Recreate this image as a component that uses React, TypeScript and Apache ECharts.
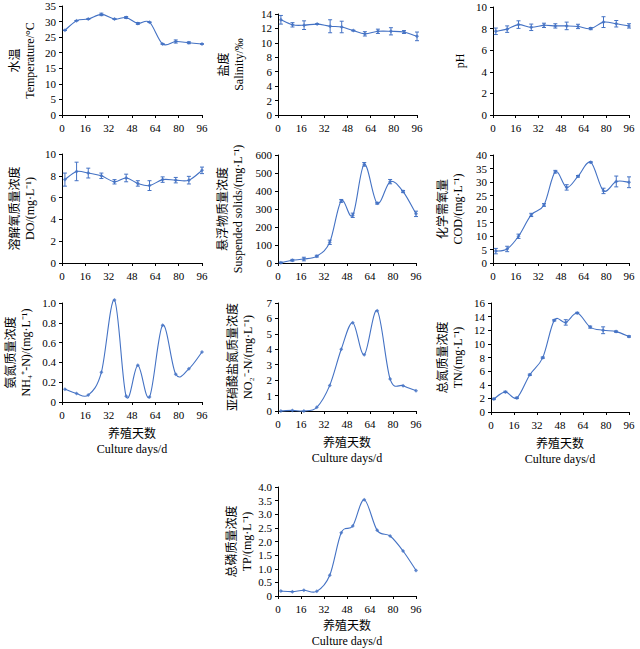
import React, { useEffect, useRef } from "react";
import * as echarts from "echarts";

const days = [2, 10, 18, 27, 36, 44, 52, 60, 69, 78, 87, 96];
const xTicks = [0, 16, 32, 48, 64, 80, 96];

const temperature = [27.2, 30.3, 30.8, 32.3, 30.8, 31.3, 29.4, 29.8, 22.8, 23.6, 23.2, 22.8];
const temperatureErr = [0, 0, 0, 0.4, 0, 0.3, 0.3, 0, 0, 0.5, 0.3, 0];
const salinity = [13.2, 12.5, 12.45, 12.6, 12.3, 12.2, 11.7, 11.25, 11.6, 11.6, 11.5, 10.9];
const salinityErr = [0.6, 0.3, 0.6, 0.05, 0.9, 0.8, 0.05, 0.3, 0.3, 0.5, 0.2, 0.6];
const pH = [7.75, 7.95, 8.37, 8.12, 8.3, 8.25, 8.25, 8.2, 8.0, 8.6, 8.45, 8.25];
const pHErr = [0.3, 0.3, 0.35, 0.3, 0.2, 0.2, 0.35, 0.2, 0.1, 0.5, 0.3, 0.2];
const dissolvedO2 = [7.65, 8.4, 8.25, 8.0, 7.45, 7.8, 7.3, 7.1, 7.65, 7.6, 7.6, 8.5];
const dissolvedO2Err = [0.6, 0.85, 0.45, 0.25, 0.2, 0.35, 0.25, 0.45, 0.25, 0.25, 0.35, 0.3];
const suspended = [2, 15, 22, 38, 115, 345, 265, 548, 332, 452, 397, 273];
const suspendedErr = [3, 5, 10, 5, 12, 8, 12, 10, 5, 12, 6, 15];
const cod = [4.4, 5.2, 9.9, 17.8, 21.5, 33.8, 28, 32.1, 37.3, 26.7, 30.2, 29.9];
const codErr = [1, 1, 0.8, 0.6, 0.5, 0.5, 1, 0.3, 0.2, 1, 2, 2];
const nh4 = [0.13, 0.085, 0.07, 0.3, 1.03, 0.057, 0.37, 0.05, 0.775, 0.28, 0.335, 0.505];
const no2 = [0, 0.04, 0, 0.24, 1.66, 4.0, 5.72, 3.65, 6.5, 2.07, 1.64, 1.32];
const tn = [1.92, 2.95, 2.07, 5.47, 7.98, 13.45, 13.15, 14.53, 12.46, 12.0, 11.8, 11.08];
const tnErr = [0.1, 0.1, 0.1, 0.1, 0.1, 0.1, 0.4, 0.1, 0.15, 0.5, 0.1, 0.1];
const tp = [0.18, 0.16, 0.21, 0.17, 0.76, 2.32, 2.57, 3.53, 2.41, 2.2, 1.65, 0.94];

const FONT = '"Liberation Serif", "Times New Roman", "Noto Sans CJK SC", serif';
const BLUE = "#4472c4";

type Panel = {
  values: number[];
  errs?: number[];
  yName: string;
  yMax: number;
  yInterval: number;
  yFmt?: (v: number) => string;
  nameGap: number;
  box: [number, number, number, number];
  xName?: boolean;
  xNameGap?: number;
};

const panels: Panel[] = [
  { values: temperature, errs: temperatureErr, yName: "水温\nTemperature/°C", yMax: 35, yInterval: 5, nameGap: 25, box: [62, 6, 140, 109] },
  { values: salinity, errs: salinityErr, yName: "盐度\nSalinity/‰", yMax: 14, yInterval: 2, nameGap: 32, box: [278, 14, 139, 101] },
  { values: pH, errs: pHErr, yName: "pH", yMax: 10, yInterval: 2, nameGap: 26, box: [493, 7, 136, 108] },
  { values: dissolvedO2, errs: dissolvedO2Err, yName: "溶解氧质量浓度\nDO/(mg·L⁻¹)", yMax: 10, yInterval: 2, nameGap: 25, box: [62, 154, 140, 109] },
  { values: suspended, errs: suspendedErr, yName: "悬浮物质量浓度\nSuspended solids/(mg·L⁻¹)", yMax: 600, yInterval: 100, nameGap: 33, box: [278, 155, 138, 108] },
  { values: cod, errs: codErr, yName: "化学需氧量\nCOD/(mg·L⁻¹)", yMax: 40, yInterval: 5, nameGap: 28, box: [493, 155, 136, 108] },
  { values: nh4, yName: "氨氮质量浓度\nNH₄⁺-N)/(mg·L⁻¹)", yMax: 1.0, yInterval: 0.2, yFmt: (v) => (v === 0 ? "0" : v.toFixed(1)), nameGap: 29, box: [62, 303, 140, 99], xName: true, xNameGap: 24 },
  { values: no2, yName: "亚硝酸盐氮质量浓度\nNO₂⁻-N/(mg·L⁻¹)", yMax: 7, yInterval: 1, nameGap: 23, box: [278, 303, 138, 108], xName: true, xNameGap: 24 },
  { values: tn, errs: tnErr, yName: "总氮质量浓度\nTN/(mg·L⁻¹)", yMax: 16, yInterval: 2, nameGap: 26, box: [491, 303, 138, 109], xName: true, xNameGap: 24 },
  { values: tp, yName: "总磷质量浓度\nTP/(mg·L⁻¹)", yMax: 4.0, yInterval: 0.5, yFmt: (v) => (v === 0 ? "0" : v.toFixed(1)), nameGap: 22, box: [278, 487, 138, 109], xName: true, xNameGap: 22 },
];

export default function App() {
  const ref = useRef<HTMLDivElement>(null);
  useEffect(() => {
    document.body.style.margin = "0";
    if (!ref.current) return;
    const chart = echarts.init(ref.current, undefined, { renderer: "svg" });
    const grid: any[] = [];
    const xAxis: any[] = [];
    const yAxis: any[] = [];
    const series: any[] = [];
    panels.forEach((p, i) => {
      const [l, t, w, h] = p.box;
      grid.push({ left: l, top: t, width: w, height: h, containLabel: false });
      xAxis.push({
        type: "value",
        gridIndex: i,
        min: xTicks[0],
        max: xTicks[xTicks.length - 1],
        interval: 16,
        splitLine: { show: false },
        axisLine: { show: true, lineStyle: { color: "#000", width: 1 } },
        axisTick: { show: true, length: 3, lineStyle: { color: "#000" } },
        axisLabel: { fontFamily: FONT, fontSize: 11, color: "#000", margin: 7 },
        name: p.xName ? "养殖天数\nCulture days/d" : "",
        nameLocation: "middle",
        nameGap: p.xNameGap ?? 24,
        nameTextStyle: { fontFamily: FONT, fontSize: 12, color: "#000", lineHeight: 15 },
      });
      yAxis.push({
        type: "value",
        gridIndex: i,
        min: 0,
        max: p.yMax,
        interval: p.yInterval,
        splitLine: { show: false },
        axisLine: { show: true, lineStyle: { color: "#000", width: 1 } },
        axisTick: { show: true, length: 3, lineStyle: { color: "#000" } },
        axisLabel: {
          fontFamily: FONT,
          fontSize: 11,
          color: "#000",
          margin: 6,
          formatter: p.yFmt ? (v: number) => p.yFmt!(v) : undefined,
        },
        name: p.yName,
        nameLocation: "middle",
        nameRotate: 90,
        nameGap: p.nameGap,
        nameTextStyle: { fontFamily: FONT, fontSize: 12, color: "#000", lineHeight: 15 },
      });
      const vals = p.values;
      // smooth spline (Catmull-Rom, like spreadsheet smoothed lines) through the data points
      series.push({
        type: "custom",
        xAxisIndex: i,
        yAxisIndex: i,
        encode: { x: 0, y: 1 },
        silent: true,
        data: days.slice(0, -1).map((d, k) => [d, vals[k], k]),
        renderItem: (_params: any, api: any) => {
          const k = api.value(2);
          const n = days.length;
          const pt = (j: number) => {
            const jj = Math.max(0, Math.min(n - 1, j));
            return api.coord([days[jj], vals[jj]]);
          };
          const p0 = pt(k - 1);
          const p1 = pt(k);
          const p2 = pt(k + 1);
          const p3 = pt(k + 2);
          const t = 1 / 6;
          return {
            type: "bezierCurve",
            shape: {
              x1: p1[0],
              y1: p1[1],
              x2: p2[0],
              y2: p2[1],
              cpx1: p1[0] + (p2[0] - p0[0]) * t,
              cpy1: p1[1] + (p2[1] - p0[1]) * t,
              cpx2: p2[0] - (p3[0] - p1[0]) * t,
              cpy2: p2[1] - (p3[1] - p1[1]) * t,
            },
            style: { stroke: BLUE, lineWidth: 1.1, fill: null },
          };
        },
      });
      series.push({
        type: "scatter",
        xAxisIndex: i,
        yAxisIndex: i,
        data: days.map((d, k) => [d, vals[k]]),
        clip: false,
        symbol: "diamond",
        symbolSize: 4,
        itemStyle: { color: BLUE },
      });
      if (p.errs) {
        const errs = p.errs;
        series.push({
          type: "custom",
          xAxisIndex: i,
          yAxisIndex: i,
          encode: { x: 0, y: 1 },
          data: days.map((d, k) => [d, vals[k], errs[k]]),
          renderItem: (_params: any, api: any) => {
            const x = api.value(0);
            const y = api.value(1);
            const e = api.value(2);
            const top = api.coord([x, y + e]);
            const bot = api.coord([x, y - e]);
            const st = { stroke: BLUE, lineWidth: 1 };
            return {
              type: "group",
              children: [
                { type: "line", shape: { x1: top[0], y1: top[1], x2: bot[0], y2: bot[1] }, style: st },
                { type: "line", shape: { x1: top[0] - 2, y1: top[1], x2: top[0] + 2, y2: top[1] }, style: st },
                { type: "line", shape: { x1: bot[0] - 2, y1: bot[1], x2: bot[0] + 2, y2: bot[1] }, style: st },
              ],
            };
          },
        });
      }
    });
    chart.setOption({
      animation: false,
      backgroundColor: "#fff",
      textStyle: { fontFamily: FONT },
      grid,
      xAxis,
      yAxis,
      series,
    });
    return () => chart.dispose();
  }, []);
  return <div ref={ref} style={{ width: 640, height: 649 }} />;
}
